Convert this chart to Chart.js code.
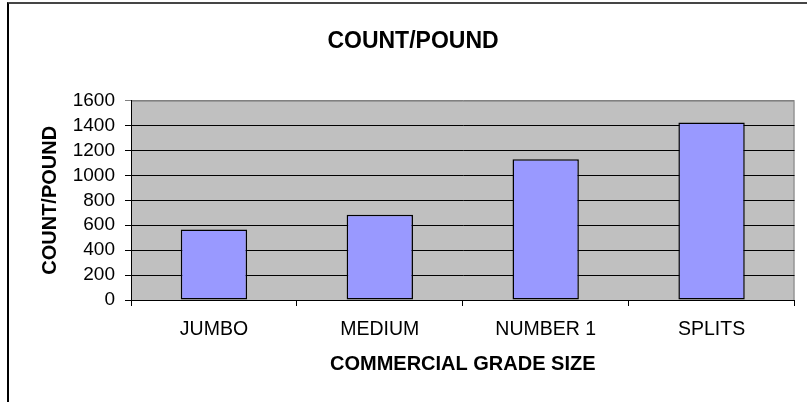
<!DOCTYPE html>
<html lang="en">
<head>
    <meta charset="UTF-8">
    <title>Count/Pound</title>
    <script src="https://cdn.jsdelivr.net/npm/chart.js"></script>
    <style>
        html, body { margin: 0; padding: 0; background: #fff; }
        #wrap { position: relative; width: 807px; height: 402px; }
        #frame {
            position: absolute; left: 7px; top: 2px; right: 0; bottom: 0;
            border-top: 2px solid #454545; border-left: 2px solid #000;
            pointer-events: none;
        }
    </style>
</head>
<body>
    <div id="wrap">
        <canvas id="chart" width="807" height="402"></canvas>
        <div id="frame"></div>
    </div>
    <script>
        // chart data
        const grades = ['JUMBO', 'MEDIUM', 'NUMBER 1', 'SPLITS'];
        const countPerPound = [565, 685, 1130, 1425];
        const yTicks = [0, 200, 400, 600, 800, 1000, 1200, 1400, 1600];

        const FONT = '"Liberation Sans", Arial, sans-serif';

        // grey plot background with grey top/right edge
        const plotBackground = {
            id: 'plotBackground',
            beforeDraw(chart) {
                const { ctx, chartArea: a } = chart;
                ctx.save();
                ctx.fillStyle = '#C0C0C0';
                ctx.fillRect(a.left, a.top, a.right - a.left, a.bottom - a.top);
                ctx.strokeStyle = '#808080';
                ctx.lineWidth = 1;
                ctx.beginPath();
                ctx.moveTo(a.left, a.top + 0.5);
                ctx.lineTo(a.right - 0.5, a.top + 0.5);
                ctx.lineTo(a.right - 0.5, a.bottom);
                ctx.stroke();
                ctx.restore();
            }
        };

        new Chart(document.getElementById('chart'), {
            type: 'bar',
            data: {
                labels: grades,
                datasets: [{
                    data: countPerPound,
                    backgroundColor: '#9999FF',
                    borderColor: '#000',
                    borderWidth: 1.5,
                    borderSkipped: false,
                    barPercentage: 0.4,
                    categoryPercentage: 1.0
                }]
            },
            options: {
                responsive: false,
                animation: false,
                layout: { padding: { left: 31.5, right: 12.5, top: 0, bottom: 0 } },
                plugins: {
                    legend: { display: false },
                    tooltip: { enabled: false },
                    title: {
                        display: true,
                        text: 'COUNT/POUND',
                        color: '#000',
                        font: { family: FONT, size: 23, weight: 'bold' },
                        padding: { top: 28, bottom: 45 }
                    }
                },
                scales: {
                    x: {
                        grid: {
                            offset: true,
                            drawOnChartArea: false,
                            tickLength: 6,
                            color: (c) => c.index === grades.length ? '#808080' : '#000'
                        },
                        border: { display: true, color: '#000', width: 1 },
                        ticks: {
                            color: '#000',
                            padding: 12,
                            font: { family: FONT, size: 19.5 }
                        },
                        title: {
                            display: true,
                            text: 'COMMERCIAL GRADE SIZE',
                            color: '#000',
                            font: { family: FONT, size: 20, weight: 'bold' },
                            padding: { top: 0, bottom: 26 }
                        },
                        afterFit(scale) { scale.height = 102; }
                    },
                    y: {
                        min: yTicks[0],
                        max: yTicks[yTicks.length - 1],
                        afterBuildTicks(scale) { scale.ticks = yTicks.map(v => ({ value: v })); },
                        grid: {
                            tickLength: 6,
                            lineWidth: 1,
                            color: (c) => c.tick && c.tick.value === 1600 ? '#808080' : '#000'
                        },
                        border: { display: true, color: '#000', width: 1 },
                        ticks: {
                            color: '#000',
                            padding: 10,
                            autoSkip: false,
                            callback: (v) => String(v),
                            font: { family: FONT, size: 19 }
                        },
                        title: {
                            display: true,
                            text: 'COUNT/POUND',
                            color: '#000',
                            font: { family: FONT, size: 20, weight: 'bold' },
                            padding: { top: 7, bottom: 0 }
                        },
                        afterFit(scale) { scale.width = 99.5; }
                    }
                }
            },
            plugins: [plotBackground]
        });
    </script>
</body>
</html>
